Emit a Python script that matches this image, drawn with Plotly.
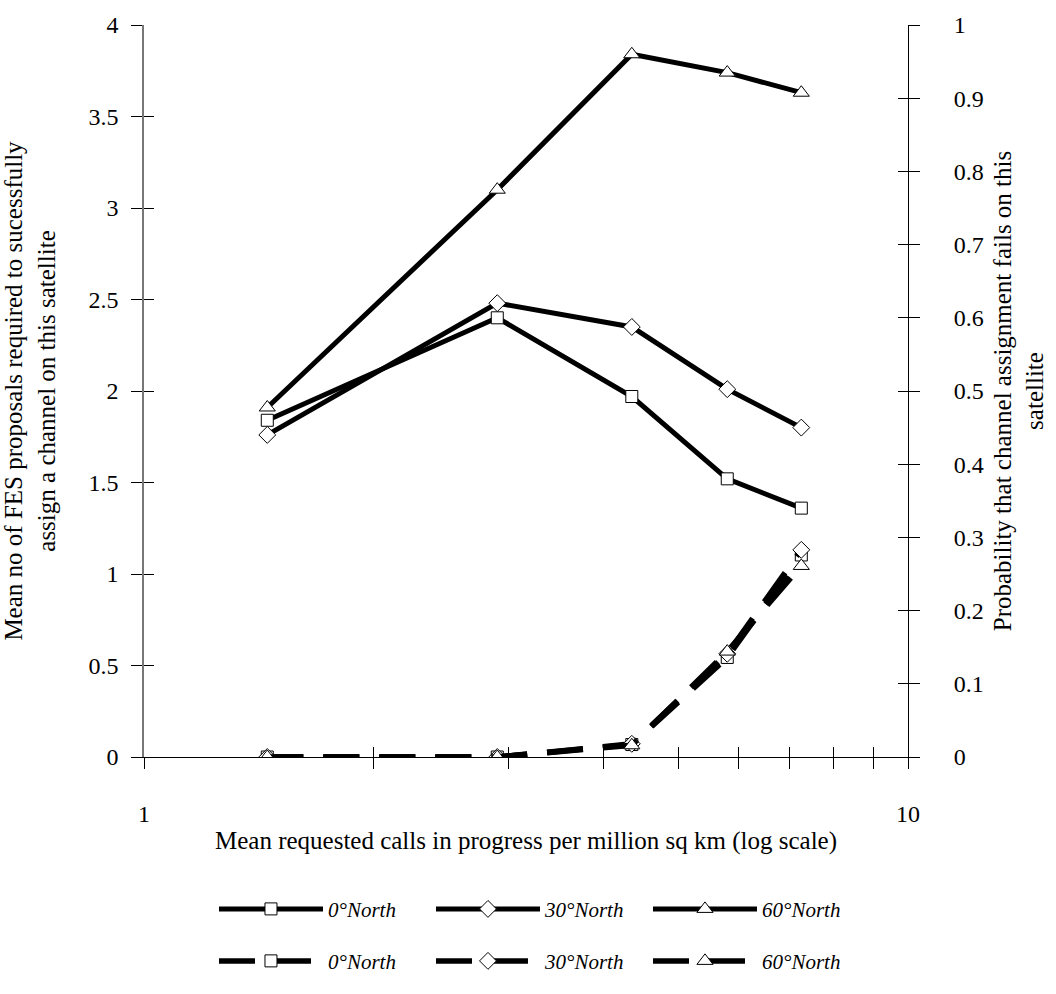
import plotly.graph_objects as go

# ---- data ----
calls = [1.45, 2.9, 4.35, 5.8, 7.25]
series_names = ["0°North", "30°North", "60°North"]
mean_0N = [1.84, 2.40, 1.97, 1.52, 1.36]
mean_30N = [1.76, 2.48, 2.35, 2.01, 1.80]
mean_60N = [1.91, 3.10, 3.84, 3.74, 3.63]
pfail_0N = [0.0, 0.0, 0.017, 0.136, 0.276]
pfail_30N = [0.0, 0.0, 0.018, 0.141, 0.283]
pfail_60N = [0.0, 0.0, 0.016, 0.144, 0.261]
x_tickvals = [1, 2, 3, 4, 5, 6, 7, 8, 9, 10]
x_ticktext = ["1", "", "", "", "", "", "", "", "", "10"]
left_ticks = [0, 0.5, 1, 1.5, 2, 2.5, 3, 3.5, 4]
right_ticks = [0, 0.1, 0.2, 0.3, 0.4, 0.5, 0.6, 0.7, 0.8, 0.9, 1]

FONT = "Liberation Serif"
symbols = ["square", "diamond", "triangle-up"]
sizes = [12, 13, 14]
means = [mean_0N, mean_30N, mean_60N]
pfails = [pfail_0N, pfail_30N, pfail_60N]

fig = go.Figure()
for name, sym, sz, yv in zip(series_names, symbols, sizes, means):
    fig.add_trace(go.Scatter(
        x=calls, y=yv, name=name, mode="lines+markers",
        line=dict(color="black", width=5),
        marker=dict(symbol=sym, size=sz, color="white",
                    line=dict(color="black", width=1)),
        legend="legend", yaxis="y"))
for name, sym, sz, yv in zip(series_names, symbols, sizes, pfails):
    fig.add_trace(go.Scatter(
        x=calls, y=yv, name=name, mode="lines+markers",
        line=dict(color="black", width=5.5, dash="36px,20px"),
        marker=dict(symbol=sym, size=sz, color="white",
                    line=dict(color="black", width=1)),
        legend="legend2", yaxis="y2"))

# invisible helper traces so the inside-tick overlay axes get drawn
fig.add_trace(go.Scatter(x=[calls[0]], y=[0], xaxis="x3", yaxis="y3",
                         mode="markers", marker=dict(opacity=0),
                         showlegend=False, hoverinfo="skip"))
fig.add_trace(go.Scatter(x=[calls[0]], y=[0], xaxis="x3", yaxis="y4",
                         mode="markers", marker=dict(opacity=0),
                         showlegend=False, hoverinfo="skip"))

tickfont = dict(family=FONT, size=24, color="black")
titlefont = dict(family=FONT, size=25, color="black")
legfont = dict(family=FONT, size=21, color="black", style="italic")

fig.update_layout(
    width=1056, height=994,
    margin=dict(l=142, r=139, t=19, b=225),
    paper_bgcolor="white", plot_bgcolor="white",
    showlegend=True,
    xaxis=dict(type="log", range=[0, 1], tickvals=x_tickvals, ticktext=x_ticktext,
               ticks="outside", ticklen=11, tickcolor="black", tickwidth=1,
               showline=True, linecolor="black", linewidth=1,
               showgrid=False, zeroline=False, tickfont=tickfont,
               ticklabelstandoff=24,
               title=dict(text="Mean requested calls in progress per million sq km (log scale)",
                          font=titlefont, standoff=5)),
    xaxis3=dict(type="log", range=[0, 1], overlaying="x", anchor="y3",
                tickvals=x_tickvals, showticklabels=False,
                ticks="inside", ticklen=10, tickcolor="black", tickwidth=1,
                showline=False, showgrid=False, zeroline=False),
    yaxis=dict(range=[0, 4], tickvals=left_ticks, ticks="outside", ticklen=11,
               tickcolor="black", tickwidth=1, showline=True, linecolor="#777",
               linewidth=1.5, showgrid=False, zeroline=False, tickfont=tickfont,
               ticklabelstandoff=8,
               title=dict(text="Mean no of FES proposals required to sucessfully<br>assign a channel on this satellite",
                          font=titlefont, standoff=26)),
    yaxis2=dict(range=[0, 1], tickvals=right_ticks, overlaying="y", side="right",
                anchor="x", ticks="outside", ticklen=11, tickcolor="black",
                tickwidth=1, showline=True, linecolor="black", linewidth=1,
                showgrid=False, zeroline=False, tickfont=tickfont,
                ticklabelstandoff=29,
                title=dict(text="Probability that channel assignment fails on this<br>satellite",
                           font=titlefont, standoff=10)),
    yaxis3=dict(range=[0, 4], tickvals=left_ticks, overlaying="y", side="left",
                anchor="x3", showticklabels=False, ticks="inside", ticklen=10,
                tickcolor="black", tickwidth=1, showline=False, showgrid=False,
                zeroline=False),
    yaxis4=dict(range=[0, 1], tickvals=right_ticks, overlaying="y", side="right",
                anchor="x3", showticklabels=False, ticks="inside", ticklen=10,
                tickcolor="black", tickwidth=1, showline=False, showgrid=False,
                zeroline=False),
    legend=dict(orientation="h", x=0.0916, xanchor="left", y=-0.208, yanchor="middle",
                itemwidth=104, entrywidth=98, entrywidthmode="pixels", font=legfont,
                bgcolor="rgba(0,0,0,0)", itemclick=False),
    legend2=dict(orientation="h", x=0.0916, xanchor="left", y=-0.279, yanchor="middle",
                 itemwidth=104, entrywidth=98, entrywidthmode="pixels", font=legfont,
                 bgcolor="rgba(0,0,0,0)", itemclick=False),
)

fig.write_html("out.html")
